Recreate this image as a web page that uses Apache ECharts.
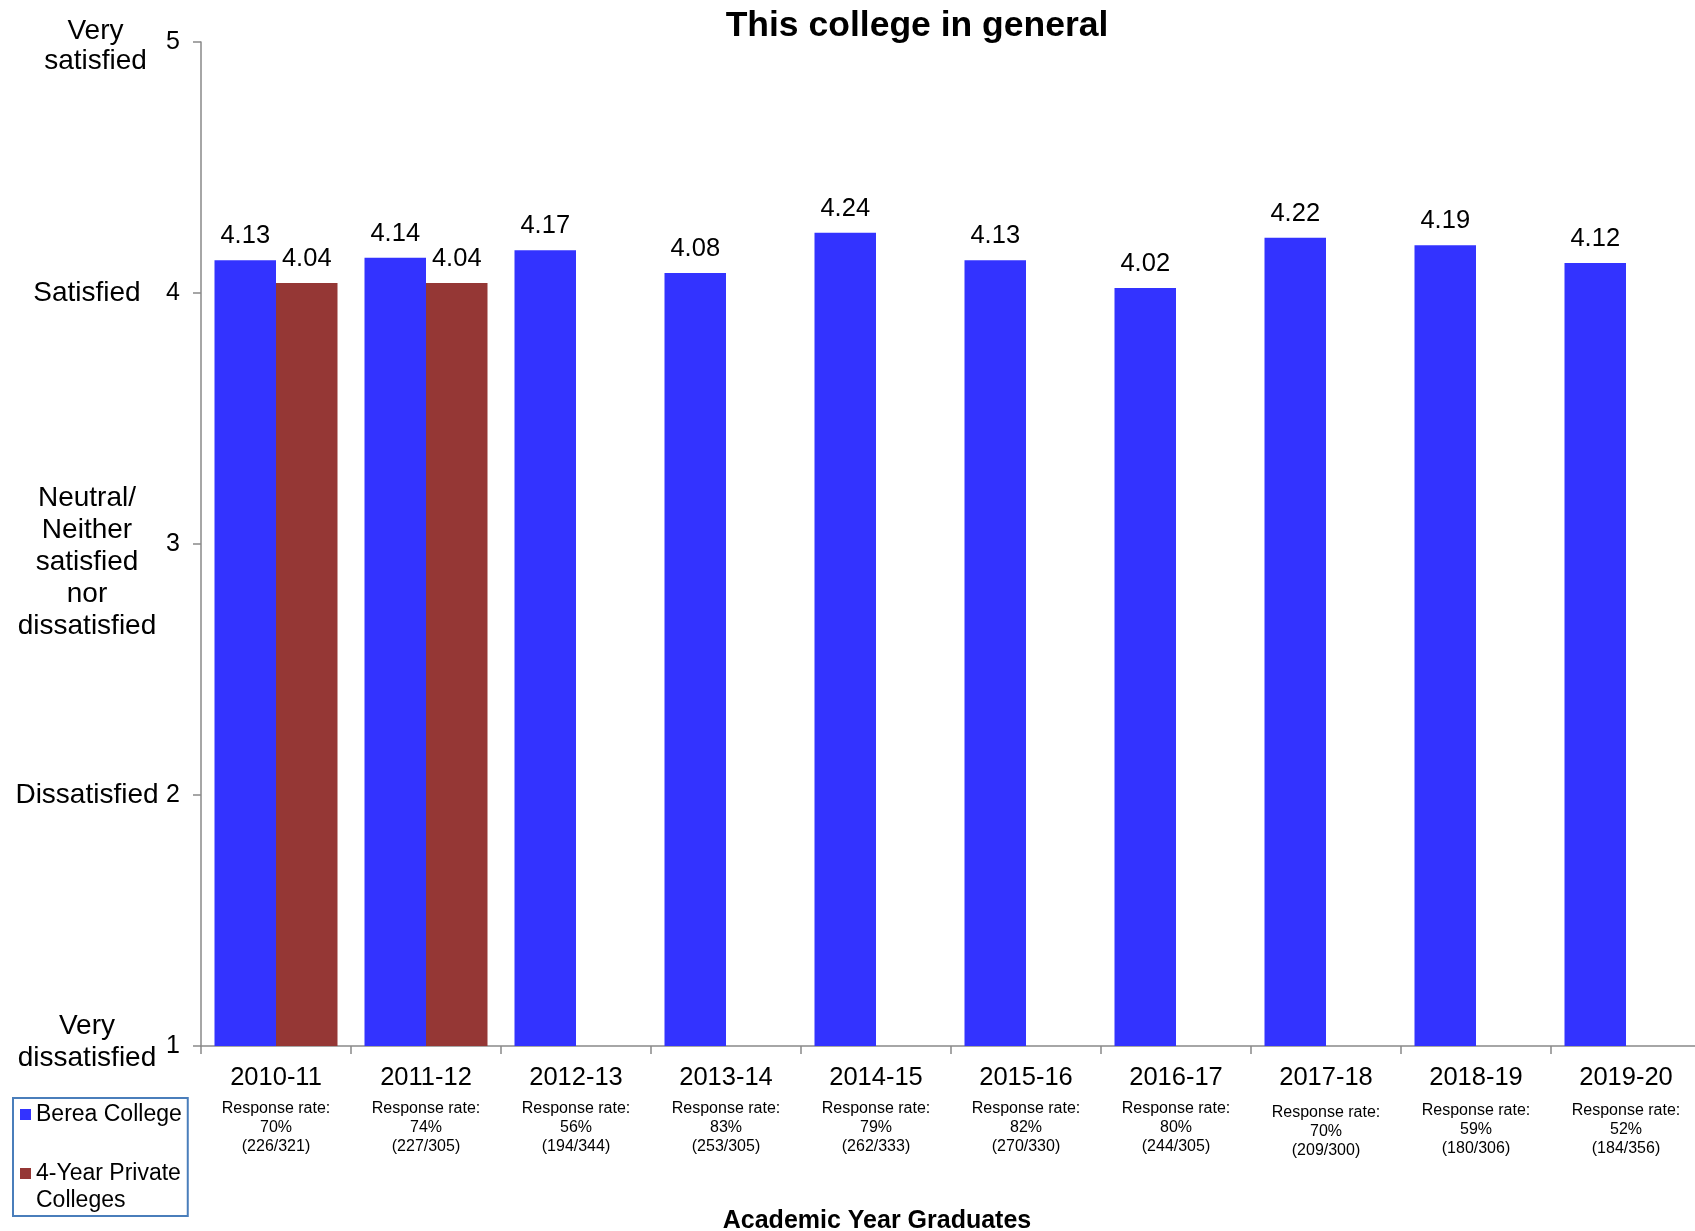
<!DOCTYPE html>
<html>
<head>
<meta charset="utf-8">
<script src="https://cdn.jsdelivr.net/npm/echarts@6/dist/echarts.min.js"></script>
<style>
html,body{margin:0;padding:0;background:#fff;}
#chart{width:1695px;height:1231px;}
</style>
</head>
<body>
<div id="chart"></div>
<script>
const categories = ['2010-11','2011-12','2012-13','2013-14','2014-15','2015-16','2016-17','2017-18','2018-19','2019-20'];
const responseRates = ['70%','74%','56%','83%','79%','82%','80%','70%','59%','52%'];
const responseCounts = ['(226/321)','(227/305)','(194/344)','(253/305)','(262/333)','(270/330)','(244/305)','(209/300)','(180/306)','(184/356)'];
const bereaValues = [4.13, 4.14, 4.17, 4.08, 4.24, 4.13, 4.02, 4.22, 4.19, 4.12];
const privateValues = [4.04, 4.04, null, null, null, null, null, null, null, null];
const scaleNames = {
  1: ['Very', 'dissatisfied'],
  2: ['Dissatisfied'],
  3: ['Neutral/', 'Neither', 'satisfied', 'nor', 'dissatisfied'],
  4: ['Satisfied'],
  5: ['Very', 'satisfied']
};

const FONT = '"Liberation Sans", Arial, sans-serif';
const chart = echarts.init(document.getElementById('chart'), null, {renderer: 'canvas'});

// layout nudges (style only)
const scaleStyle = {1: 't', 2: 't', 3: 't', 4: 't', 5: 'v'};
const topSpacer = {1: 0, 2: 0, 3: 36, 4: 0, 5: 8};
const bottomSpacer = {1: 7, 2: 0, 3: 0, 4: 0, 5: 0};
const rateGap = ['', '', '', '', '', '', '', 'g4', 'g2', 'g2'];

// legend icons: square centred (single-line item) / square on first line (two-line item)
const ICON_MID = 'path://M0,0L11,0L11,11L0,11Z';
const ICON_TOP = 'path://M0,0L11,0L11,11L0,11Z M5,38L5.01,38';

const option = {
  backgroundColor: '#ffffff',
  animation: false,
  textStyle: {fontFamily: FONT, color: '#000'},
  title: [
    {
      text: 'This college in general',
      left: 917, top: 8, padding: 0, textAlign: 'center',
      textStyle: {fontFamily: FONT, fontSize: 35.5, fontWeight: 'bold', color: '#000'}
    },
    {
      text: 'Academic Year Graduates',
      left: 877, top: 1209, padding: 0, textAlign: 'center',
      textStyle: {fontFamily: FONT, fontSize: 25, fontWeight: 'bold', color: '#000'}
    }
  ],
  legend: {
    orient: 'vertical',
    left: 13, top: 1098,
    height: 200,
    padding: [3, 6, 2, 7],
    itemGap: 32,
    itemWidth: 11, itemHeight: 38,
    borderColor: '#4a7ebb', borderWidth: 2,
    textStyle: {fontFamily: FONT, fontSize: 23, color: '#000', lineHeight: 27},
    formatter: function (name) {
      return name === '4-Year Private Colleges' ? '4-Year Private\nColleges' : name;
    },
    data: [
      {name: 'Berea College', icon: ICON_MID},
      {name: '4-Year Private Colleges', icon: ICON_TOP}
    ]
  },
  grid: {left: 201, width: 1500, top: 42, bottom: 185, containLabel: false, outerBoundsMode: 'none'},
  xAxis: {
    type: 'category',
    data: categories,
    axisLine: {lineStyle: {color: '#898989', width: 1.5}},
    axisTick: {show: true, length: 8, lineStyle: {color: '#898989', width: 1.5}},
    axisLabel: {
      interval: 0,
      margin: 11,
      color: '#000',
      formatter: function (value, idx) {
        const gap = rateGap[idx] ? '\n{' + rateGap[idx] + '| }' : '';
        return '{a|' + value + '}' + gap + '\n{b|Response rate:}\n{b|' + responseRates[idx] + '}\n{b|' + responseCounts[idx] + '}';
      },
      rich: {
        a: {fontFamily: FONT, fontSize: 25.5, lineHeight: 42, color: '#000'},
        b: {fontFamily: FONT, fontSize: 16, lineHeight: 19, color: '#000'},
        g4: {fontSize: 2, lineHeight: 4},
        g2: {fontSize: 2, lineHeight: 2}
      }
    }
  },
  yAxis: [
    {
      type: 'value',
      min: 1, max: 5, interval: 1,
      position: 'left',
      axisLine: {show: true, lineStyle: {color: '#898989', width: 1.5}},
      axisTick: {show: true, length: 8, lineStyle: {color: '#898989', width: 1.5}},
      splitLine: {show: false},
      axisLabel: {
        margin: 21,
        fontFamily: FONT, fontSize: 25, color: '#000'
      }
    },
    {
      type: 'value',
      min: 1, max: 5, interval: 1,
      position: 'left',
      axisLine: {show: false},
      axisTick: {show: false},
      splitLine: {show: false},
      axisLabel: {
        margin: 114,
        align: 'center',
        color: '#000',
        formatter: function (v) {
          const lines = scaleNames[v];
          if (!lines) return '';
          const st = scaleStyle[v];
          let parts = lines.map(function (l) { return '{' + st + '|' + l + '}'; });
          if (topSpacer[v]) parts.unshift('{sp' + topSpacer[v] + '| }');
          if (bottomSpacer[v]) parts.push('{sp' + bottomSpacer[v] + '| }');
          return parts.join('\n');
        },
        rich: {
          t: {fontFamily: FONT, fontSize: 28, lineHeight: 32, color: '#000'},
          v: {fontFamily: FONT, fontSize: 28, lineHeight: 30, color: '#000', padding: [0, 0, 0, 17]},
          sp36: {fontSize: 2, lineHeight: 36},
          sp8: {fontSize: 2, lineHeight: 8},
          sp7: {fontSize: 2, lineHeight: 7}
        }
      }
    }
  ],
  series: [
    {
      name: 'Berea College',
      type: 'bar',
      data: bereaValues,
      barGap: '0%',
      barCategoryGap: '18%',
      itemStyle: {color: '#3333ff'},
      label: {show: true, position: 'top', distance: 11, fontFamily: FONT, fontSize: 25.5, color: '#000',
        formatter: function (p) { return p.value.toFixed(2); }}
    },
    {
      name: '4-Year Private Colleges',
      type: 'bar',
      data: privateValues,
      barGap: '0%',
      barCategoryGap: '18%',
      itemStyle: {color: '#953735'},
      label: {show: true, position: 'top', distance: 11, fontFamily: FONT, fontSize: 25.5, color: '#000',
        formatter: function (p) { return p.value == null ? '' : p.value.toFixed(2); }}
    }
  ]
};
chart.setOption(option);
</script>
</body>
</html>
